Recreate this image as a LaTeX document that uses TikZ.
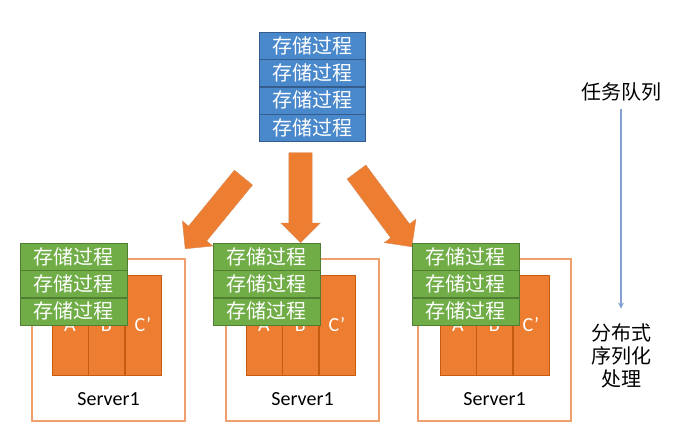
\documentclass[tikz,border=0pt]{standalone}
\usepackage{fontspec}
\setmainfont{Carlito}
\newfontfamily\cjk{Noto Sans CJK SC}
\usetikzlibrary{positioning,shapes.arrows,arrows.meta}
\definecolor{procblue}{RGB}{74,136,204}
\definecolor{procedge}{RGB}{52,92,140}
\definecolor{procgreen}{RGB}{112,173,71}
\definecolor{greenedge}{RGB}{80,126,50}
\definecolor{ptorange}{RGB}{237,125,49}
\definecolor{orangeedge}{RGB}{197,90,17}
\definecolor{srvline}{RGB}{240,160,110}
\definecolor{qline}{RGB}{130,160,210}
\tikzset{
  bluebox/.style={fill=procblue,draw=procedge,shape=rectangle,minimum width=106pt,minimum height=27pt,inner sep=0pt,text=white,font=\cjk\fontsize{20}{20}\selectfont},
  greenbox/.style={fill=procgreen,draw=greenedge,shape=rectangle,minimum width=107pt,minimum height=27pt,inner sep=0pt,text=white,font=\cjk\fontsize{20}{20}\selectfont},
  part/.style={fill=ptorange,draw=orangeedge,shape=rectangle,minimum width=36pt,minimum height=100pt,inner sep=0pt,text=white,font=\fontsize{20}{20}\selectfont},
  srvbox/.style={draw=srvline,line width=1.5pt,shape=rectangle,minimum width=153pt,minimum height=162pt},
  fatarrow/.style={single arrow,fill=ptorange,draw=orangeedge!70,minimum width=39pt,single arrow head extend=8pt,inner xsep=0pt,inner ysep=11.5pt,anchor=tip},
  cjktext/.style={font=\cjk\fontsize{20}{23}\selectfont,inner sep=0pt,align=center}
}
\begin{document}
\begin{tikzpicture}[x=1pt,y=1pt]
\useasboundingbox (0,0) rectangle (677,432);
% task queue
\node[bluebox](b1) at (312,386.5){存储过程};
\node[bluebox,below=0pt of b1](b2){存储过程};
\node[bluebox,below=0pt of b2](b3){存储过程};
\node[bluebox,below=0pt of b3](b4){存储过程};
\node[fatarrow,minimum height=92pt,rotate=230.7](arrL) at (185,183){};
\node[fatarrow,minimum height=90pt,rotate=270](arrM) at (300.5,189){};
\node[fatarrow,minimum height=93pt,rotate=-53.5](arrR) at (412,185){};
% servers
\foreach \i/\bx/\gx/\ox in {1/32/20/52,2/226/213/246,3/418/412/440}{
  \node[srvbox](srv\i) at ({\bx+76.5},92){};
  \node[part](pa\i) at ({\ox+18},107){A};
  \node[part,right=0pt of pa\i](pb\i){B};
  \node[part,right=0pt of pb\i](pc\i){C’};
  \node[greenbox](g\i a) at ({\gx+53.5},175.5){存储过程};
  \node[greenbox,below=0pt of g\i a](g\i b){存储过程};
  \node[greenbox,below=0pt of g\i b](g\i c){存储过程};
  \node[font=\fontsize{20}{20}\selectfont](lab\i) at ({\bx+76.5},33){Server1};
}
\node[cjktext](queue) at (621,340){任务队列};
\node[cjktext](dist) at (621,76){分布式\\序列化\\处理};
\draw[qline,line width=1.2pt,-{Stealth[length=6pt,width=6pt]},shorten <=8pt,shorten >=15pt] (queue) -- (dist);
\end{tikzpicture}
\end{document}
